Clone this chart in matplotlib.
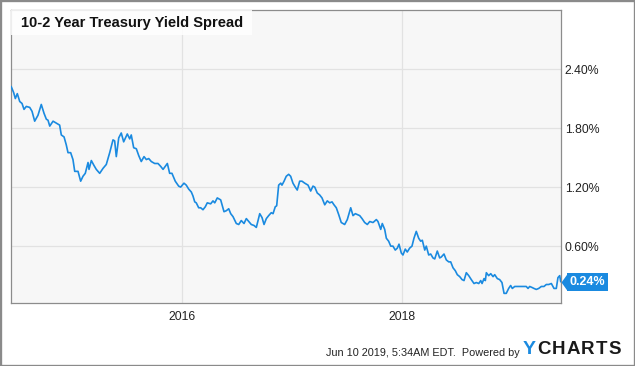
import matplotlib.pyplot as plt
import matplotlib.patches as mpatches

plt.rcParams["font.family"] = ["Liberation Sans", "DejaVu Sans"]

TITLE = "10-2 Year Treasury Yield Spread"
FOOTER = "Jun 10 2019, 5:34AM EDT.  Powered by"

# decimal years and spread in percent
years = [
    2014.445, 2014.467, 2014.482, 2014.500, 2014.522, 2014.543, 2014.561, 2014.582,
    2014.613, 2014.634, 2014.658, 2014.688, 2014.718, 2014.743, 2014.764, 2014.779,
    2014.795, 2014.825, 2014.855, 2014.885, 2014.900, 2014.925, 2014.945, 2014.961,
    2014.985, 2015.006, 2015.022, 2015.052, 2015.076, 2015.097, 2015.118, 2015.143,
    2015.152, 2015.173, 2015.197, 2015.218, 2015.249, 2015.279, 2015.309, 2015.340,
    2015.370, 2015.385, 2015.400, 2015.422, 2015.445, 2015.467, 2015.500, 2015.522,
    2015.536, 2015.558, 2015.582, 2015.604, 2015.627, 2015.652, 2015.673, 2015.695,
    2015.718, 2015.749, 2015.779, 2015.804, 2015.825, 2015.864, 2015.885, 2015.906,
    2015.936, 2015.967, 2015.985, 2016.015, 2016.036, 2016.058, 2016.082, 2016.097,
    2016.113, 2016.127, 2016.149, 2016.167, 2016.188, 2016.209, 2016.227, 2016.258,
    2016.279, 2016.295, 2016.318, 2016.349, 2016.379, 2016.400, 2016.422, 2016.440,
    2016.461, 2016.491, 2016.513, 2016.536, 2016.561, 2016.582, 2016.604, 2016.627,
    2016.652, 2016.673, 2016.704, 2016.725, 2016.743, 2016.764, 2016.785, 2016.809,
    2016.825, 2016.845, 2016.858, 2016.876, 2016.895, 2016.906, 2016.925, 2016.945,
    2016.967, 2016.985, 2017.006, 2017.027, 2017.045, 2017.067, 2017.088, 2017.113,
    2017.143, 2017.167, 2017.188, 2017.204, 2017.227, 2017.249, 2017.270, 2017.295,
    2017.318, 2017.340, 2017.361, 2017.379, 2017.400, 2017.422, 2017.445, 2017.476,
    2017.500, 2017.531, 2017.552, 2017.573, 2017.613, 2017.634, 2017.658, 2017.682,
    2017.704, 2017.734, 2017.764, 2017.779, 2017.804, 2017.818, 2017.840, 2017.855,
    2017.876, 2017.895, 2017.915, 2017.936, 2017.955, 2017.970, 2017.991, 2018.006,
    2018.027, 2018.045, 2018.067, 2018.088, 2018.106, 2018.127, 2018.149, 2018.167,
    2018.182, 2018.204, 2018.218, 2018.240, 2018.258, 2018.279, 2018.295, 2018.318,
    2018.340, 2018.355, 2018.379, 2018.400, 2018.422, 2018.440, 2018.461, 2018.482,
    2018.500, 2018.522, 2018.543, 2018.561, 2018.582, 2018.604, 2018.627, 2018.652,
    2018.673, 2018.695, 2018.713, 2018.725, 2018.743, 2018.755, 2018.764, 2018.785,
    2018.804, 2018.825, 2018.840, 2018.864, 2018.885, 2018.906, 2018.925, 2018.945,
    2018.967, 2018.985, 2019.000, 2019.022, 2019.052, 2019.097, 2019.127, 2019.143,
    2019.158, 2019.179, 2019.197, 2019.218, 2019.240, 2019.264, 2019.288, 2019.309,
    2019.331, 2019.355, 2019.379, 2019.400, 2019.415, 2019.431, 2019.440,
]
spread = [
    2.22, 2.16, 2.10, 2.15, 2.07, 2.05, 1.99, 2.02,
    2.01, 1.97, 1.87, 1.93, 2.04, 1.95, 1.89, 1.88,
    1.82, 1.87, 1.85, 1.83, 1.73, 1.71, 1.63, 1.55,
    1.55, 1.48, 1.36, 1.36, 1.26, 1.31, 1.34, 1.45,
    1.38, 1.47, 1.42, 1.38, 1.34, 1.39, 1.43, 1.55,
    1.68, 1.67, 1.51, 1.70, 1.75, 1.66, 1.74, 1.69,
    1.73, 1.60, 1.59, 1.52, 1.46, 1.51, 1.48, 1.49,
    1.46, 1.44, 1.44, 1.41, 1.38, 1.44, 1.34, 1.34,
    1.26, 1.21, 1.20, 1.24, 1.22, 1.18, 1.15, 1.11,
    1.05, 1.04, 0.99, 0.99, 0.97, 1.00, 1.04, 1.03,
    1.06, 1.04, 1.09, 1.07, 0.95, 0.96, 0.98, 0.93,
    0.90, 0.83, 0.82, 0.86, 0.83, 0.88, 0.85, 0.82,
    0.81, 0.79, 0.93, 0.89, 0.82, 0.88, 0.91, 0.94,
    0.93, 1.00, 1.01, 1.22, 1.24, 1.22, 1.26, 1.31,
    1.33, 1.31, 1.24, 1.20, 1.17, 1.26, 1.26, 1.24,
    1.22, 1.16, 1.21, 1.20, 1.14, 1.12, 1.09, 1.02,
    1.06, 1.04, 1.05, 1.02, 0.99, 0.92, 0.84, 0.82,
    0.87, 0.99, 0.91, 0.93, 0.91, 0.88, 0.84, 0.82,
    0.85, 0.84, 0.87, 0.85, 0.77, 0.83, 0.77, 0.68,
    0.65, 0.60, 0.60, 0.56, 0.58, 0.62, 0.53, 0.51,
    0.57, 0.54, 0.58, 0.60, 0.68, 0.75, 0.68, 0.65,
    0.66, 0.56, 0.60, 0.51, 0.52, 0.48, 0.47, 0.55,
    0.48, 0.49, 0.52, 0.46, 0.44, 0.44, 0.38, 0.35,
    0.31, 0.29, 0.26, 0.25, 0.33, 0.30, 0.26, 0.22,
    0.23, 0.22, 0.25, 0.22, 0.27, 0.25, 0.33, 0.30,
    0.32, 0.29, 0.31, 0.27, 0.26, 0.23, 0.12, 0.12,
    0.17, 0.20, 0.17, 0.19, 0.19, 0.19, 0.19, 0.17,
    0.19, 0.18, 0.17, 0.16, 0.17, 0.19, 0.19, 0.21,
    0.21, 0.22, 0.17, 0.17, 0.28, 0.30, 0.24,
]

y_ticks = [0.60, 1.20, 1.80, 2.40]
x_ticks = [2016, 2018]
x_labels = ["2016", "2018"]

BLUE = "#1a8ae0"
W, H = 635, 366

fig = plt.figure(figsize=(W / 100, H / 100), dpi=100)
fig.patch.set_facecolor("white")
# axes box in pixels: left 10.7, right 560.7, top 10, bottom 303.2
ax = fig.add_axes([10.7 / W, (H - 303.2) / H, 550 / W, 293.2 / H])
ax.set_facecolor("#f7f7f7")

ax.plot(years, spread, color=BLUE, lw=1.2, zorder=3, solid_joinstyle="round")

ax.set_xlim(2014.44, 2019.44)
ax.set_ylim(0.02, 3.0)
ax.set_xticks(x_ticks)
ax.set_xticklabels(x_labels)
ax.set_yticks(y_ticks)
ax.set_yticklabels([f"{v:.2f}%" for v in y_ticks])
ax.yaxis.tick_right()
ax.tick_params(axis="both", length=0, labelsize=8.8, labelcolor="#222222")
ax.tick_params(axis="y", pad=3.0)
ax.tick_params(axis="x", pad=5.5)
ax.grid(True, color="#e2e2e2", lw=0.9, zorder=0)
ax.set_axisbelow(True)
for s in ax.spines.values():
    s.set_color("#8c8c8c")
    s.set_linewidth(0.9)

# title box
ax.add_patch(mpatches.Rectangle((0, 1 - 25 / 293.2), 241 / 550, 25 / 293.2,
                                transform=ax.transAxes, fc="white", ec="none",
                                alpha=0.85, zorder=4))
ax.text(10.6 / 550, 1 - 12.8 / 293.2, TITLE, transform=ax.transAxes,
        ha="left", va="center", fontsize=10.5, fontweight="bold",
        color="#111111", zorder=5)

# last value flag: arrow head with its tip on the right edge, then the box
last = spread[-1]
ytr = ax.get_yaxis_transform()
arrow = [(0, 0), (0.72, 1), (0.9, 1), (0.9, -1), (0.72, -1), (0, 0)]
ax.plot([1.0], [last], marker=arrow, ms=12.2, color=BLUE, mec="none",
        transform=ytr, clip_on=False, zorder=6)
ax.annotate(f"{last:.2f}%", xy=(1.0, last), xycoords=ytr,
            xytext=(6.4, -0.2), textcoords="offset points",
            ha="left", va="center", fontsize=9, fontweight="bold", color="white",
            bbox=dict(boxstyle="square,pad=0.24", fc=BLUE, ec="none"),
            annotation_clip=False, zorder=6)

# footer
fig.text(520 / W, 1 - 352.5 / H, FOOTER, ha="right", va="center",
         fontsize=7.85, color="#222222")
fig.text(522.5 / W, 1 - 350 / H, "Y", ha="left", va="center",
         fontsize=14, fontweight="bold", color=BLUE)
# CHARTS letters spread out like the logo
x0 = 537.5
for ch in "CHARTS":
    t = fig.text(x0 / W, 1 - 350 / H, ch, ha="left", va="center",
                 fontsize=13.5, fontweight="bold", color="#1a1a1a")
    w = t.get_window_extent(renderer=fig.canvas.get_renderer()).width
    x0 += w + 1.0

# outer border
fig.add_artist(mpatches.Rectangle((0, 0), 1, 1, transform=fig.transFigure,
                                  fill=False, ec="#8a8a8a", lw=2.4))

fig.savefig("out.png", dpi=100)
